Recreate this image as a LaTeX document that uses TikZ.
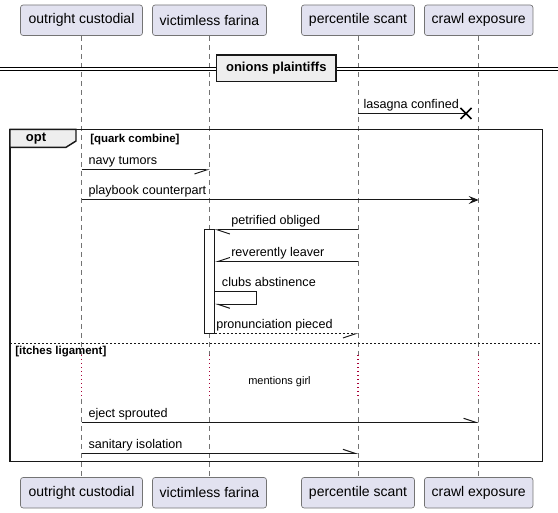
\documentclass[tikz,border=0pt]{standalone}
\usepackage{fontspec}
\setmainfont{Liberation Sans}
\usetikzlibrary{arrows.meta}

\definecolor{partfill}{HTML}{E2E2F0}
\definecolor{partline}{HTML}{181818}
\definecolor{groupfill}{HTML}{EEEEEE}
\definecolor{delayred}{HTML}{A80036}

\begin{document}
\begin{tikzpicture}[x=0.75pt,y=-0.75pt,
  part/.style={draw=partline!60,fill=partfill,rounded corners=2pt,line width=0.5pt,
    inner sep=0pt,minimum height=22.9pt,font=\fontsize{10.5}{12}\selectfont},
  life/.style={draw=black!55,line width=0.5pt,dash pattern=on 3.75pt off 3pt},
  delayline/.style={draw=delayred,line width=0.8pt,dash pattern=on 0.8pt off 2.2pt},
  msg/.style={draw=partline,line width=0.75pt},
  ret/.style={msg,dash pattern=on 1.5pt off 1.5pt},
  lbl/.style={anchor=base west,inner sep=0pt,font=\fontsize{9.45}{11}\selectfont},
  grplbl/.style={anchor=base west,inner sep=0pt,font=\fontsize{8.6}{10}\selectfont\bfseries},
  halfl/.style={-{Straight Barb[harpoon,length=9pt,width=6pt]}},
  halfr/.style={-{Straight Barb[harpoon,swap,length=9pt,width=6pt]}},
  full/.style={-{Stealth[length=7.5pt,width=6pt,inset=3pt]}},
  frame/.style={draw=partline,line width=1.1pt}
]
\useasboundingbox (0,0) rectangle (558,513);

% participants
\node[part,minimum width=91.5pt] (oc) at (81.5,20.25) {outright custodial};
\node[part,minimum width=85.5pt] (vf) at (209.5,20.25) {victimless farina};
\node[part,minimum width=84.75pt] (ps) at (358,20.25) {percentile scant};
\node[part,minimum width=81.4pt] (ce) at (478.7,20.25) {crawl exposure};
\node[part,minimum width=91.5pt] (ocb) at (81.5,492.75) {outright custodial};
\node[part,minimum width=85.5pt] (vfb) at (209.5,492.75) {victimless farina};
\node[part,minimum width=84.75pt] (psb) at (358,492.75) {percentile scant};
\node[part,minimum width=81.4pt] (ceb) at (478.7,492.75) {crawl exposure};

% delay band
\coordinate (dA) at (0,355);
\coordinate (dB) at (0,399);
\foreach \p in {oc,vf,ps,ce} {
  \draw[life] (\p.south) -- (\p |- dA);
  \draw[delayline] (\p |- dA) -- (\p |- dB);
  \draw[life] (\p |- dB) -- (\p b.north);
}

% divider
\draw[line width=0.75pt] (0,67.5) -- (558,67.5) (0,70.5) -- (558,70.5);
\node[draw=partline,fill=groupfill,line width=1.1pt,minimum width=89.5pt,minimum height=20pt,
  inner sep=0pt,font=\fontsize{9.75}{11}\selectfont\bfseries] (div) at (276.3,68.3) {onions plaintiffs};

% message rows
\coordinate (y1) at (0,113.5);
\coordinate (y2) at (0,170);
\coordinate (y3) at (0,200);
\coordinate (y4) at (0,230);
\coordinate (y5) at (0,261.5);
\coordinate (y6) at (0,291.7);
\coordinate (y7) at (0,304.3);
\coordinate (y8) at (0,334);
\coordinate (y9) at (0,422.3);
\coordinate (y10) at (0,453.3);
\coordinate (lost) at (466,113.5);

\draw[msg] (ps |- y1) -- (lost);
\draw[line width=1.1pt] (lost) +(-5.5,-5.5) -- +(5.5,5.5) (lost) +(-5.5,5.5) -- +(5.5,-5.5);
\node[lbl] (t1) at (363.3,108.5) {lasagna confined};

% opt group
\draw[frame] (10,129.3) rectangle (542.3,461.5);
\filldraw[frame,fill=groupfill] (10,129.3) -- (76,129.3) -- (76,141) -- (66,147.3) -- (10,147.3) -- cycle;
\node[anchor=base,inner sep=0pt,font=\fontsize{9.75}{11}\selectfont\bfseries] (opt) at (36,142) {opt};
\node[grplbl] (g1) at (90,143) {[quark combine]};

\draw[msg,halfr] (oc |- y2) -- (vf |- y2);
\node[lbl] (t2) at (88.3,165) {navy tumors};
\draw[msg,full] (oc |- y3) -- (ce |- y3);
\node[lbl] (t3) at (88.3,195) {playbook counterpart};

% activation
\node[draw=partline,fill=white,line width=0.75pt,minimum width=7.5pt,minimum height=78pt,inner sep=0pt] (act) at (209.3,282) {};
\draw[msg,halfl] (ps |- y4) -- (act.east |- y4);
\node[lbl] (t4) at (231,225) {petrified obliged};
\draw[msg,halfr] (ps |- y5) -- (act.east |- y5);
\node[lbl] (t5) at (231,256.5) {reverently leaver};
\draw[msg,halfl] (act.east |- y6) -- ++(42,0) -- ++(0,12.6) -- (act.east |- y7);
\node[lbl] (t6) at (221.7,286.7) {clubs abstinence};
\draw[ret,halfr] (act.east |- y8) -- (ps |- y8);
\node[lbl] (t7) at (216,329) {pronunciation pieced};

% else
\draw[draw=partline,line width=0.6pt,dash pattern=on 1.5pt off 1.5pt] (10,343.3) -- (542.3,343.3);
\node[grplbl] (g2) at (15,354.7) {[itches ligament]};
\node[anchor=base,inner sep=0pt,font=\fontsize{8.25}{10}\selectfont] (dly) at (279.5,384.3) {mentions girl};

\draw[msg,halfl] (oc |- y9) -- (ce |- y9);
\node[lbl] (t8) at (88.3,417.3) {eject sprouted};
\draw[msg,halfl] (oc |- y10) -- (ps |- y10);
\node[lbl] (t9) at (88.3,448.3) {sanitary isolation};
\end{tikzpicture}
\end{document}
